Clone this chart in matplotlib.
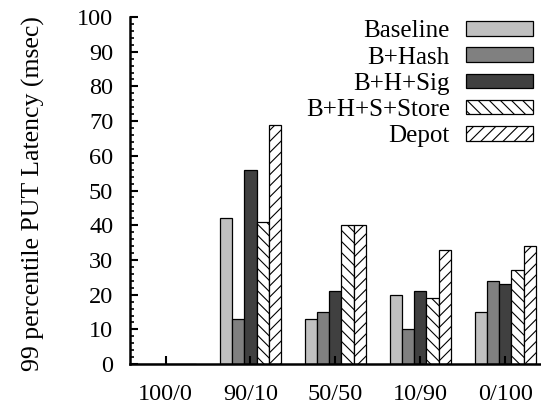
import matplotlib
matplotlib.use('Agg')
import matplotlib.pyplot as plt
import numpy as np

plt.rcParams['font.family'] = ['Liberation Serif', 'DejaVu Serif']
plt.rcParams['hatch.linewidth'] = 0.8

# workload mix (PUT/GET ratio)
categories = ['100/0', '90/10', '50/50', '10/90', '0/100']
series_names = ['Baseline', 'B+Hash', 'B+H+Sig', 'B+H+S+Store', 'Depot']

baseline = [0, 42, 13, 20, 15]
b_hash = [0, 13, 15, 10, 24]
b_h_sig = [0, 56, 21, 21, 23]
b_h_s_store = [0, 41, 40, 19, 27]
depot = [0, 69, 40, 33, 34]

series = [baseline, b_hash, b_h_sig, b_h_s_store, depot]
face_colors = ['#c0c0c0', '#808080', '#404040', 'white', 'white']
hatches = [None, None, None, '\\\\\\', '///']

fig = plt.figure(figsize=(5.41, 4.05), dpi=100)
ax = fig.add_axes([0.240, 0.101, 0.76, 0.857])

x = np.arange(len(categories))
width = 0.143
for i, (vals, name) in enumerate(zip(series, series_names)):
    offset = (i - 2) * width
    ax.bar(x + offset, vals, width, color=face_colors[i], edgecolor='black',
           linewidth=0.9, hatch=hatches[i], label=name)

ax.set_xlim(-0.42, 4.42)
ax.set_ylim(0, 100)
ax.set_xticks(x)
ax.set_xticklabels(categories)
ax.set_yticks(np.arange(0, 101, 10))
ax.set_yticks(np.arange(0, 101, 2), minor=True)
ax.tick_params(axis='both', direction='in', labelsize=17.5, width=1.5, length=6)
ax.tick_params(axis='x', pad=14, top=False)
ax.tick_params(axis='y', pad=12)
ax.tick_params(axis='y', which='minor', direction='in', width=1.2, length=3)
ax.spines['top'].set_visible(False)
ax.spines['right'].set_visible(False)
ax.spines['left'].set_linewidth(1.8)
ax.spines['bottom'].set_linewidth(1.8)

ax.set_ylabel('99 percentile PUT Latency (msec)', fontsize=18.5)
ax.yaxis.set_label_coords(-0.207, 0.49)

leg = ax.legend(loc='upper right', bbox_to_anchor=(0.985, 0.950),
                bbox_transform=fig.transFigure, frameon=False, fontsize=18,
                markerfirst=False, handlelength=2.68, handleheight=0.52,
                labelspacing=0.17, handletextpad=0.64, borderaxespad=0.0,
                borderpad=0.0)
for t in leg.get_texts():
    t.set_ha('right')

fig.savefig('out.png', dpi=100)
